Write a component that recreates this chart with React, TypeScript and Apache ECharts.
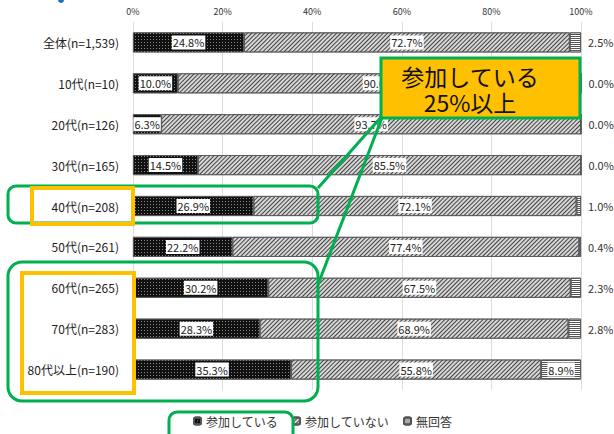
import React, { useEffect, useRef } from "react";
import * as echarts from "echarts";

const categories = [
  "全体(n=1,539)",
  "10代(n=10)",
  "20代(n=126)",
  "30代(n=165)",
  "40代(n=208)",
  "50代(n=261)",
  "60代(n=265)",
  "70代(n=283)",
  "80代以上(n=190)",
];
const seriesNames = ["参加している", "参加していない", "無回答"];
const participating = [24.8, 10.0, 6.3, 14.5, 26.9, 22.2, 30.2, 28.3, 35.3];
const notParticipating = [72.7, 90.0, 93.7, 85.5, 72.1, 77.4, 67.5, 68.9, 55.8];
const noAnswer = [2.5, 0.0, 0.0, 0.0, 1.0, 0.4, 2.3, 2.8, 8.9];
const axisTicks = [0, 20, 40, 60, 80, 100];

const FONT = "'Noto Sans CJK JP', 'Noto Sans', sans-serif";

export default function App() {
  const ref = useRef<HTMLDivElement>(null);
  useEffect(() => {
    if (!ref.current) return;
    const chart = echarts.init(ref.current, null, { renderer: "svg" });
    const fmt = (p: any) => Number(p.value).toFixed(1) + "%";
    const insideLabel = {
      show: true,
      position: "inside",
      formatter: fmt,
      backgroundColor: "#fff",
      color: "#222",
      fontSize: 11,
      fontFamily: FONT,
      padding: [2, 1, 1, 1],
    };
    chart.setOption({
      animation: false,
      textStyle: { fontFamily: FONT },
      grid: { left: 133, right: 33, top: 22, bottom: 44 },
      xAxis: {
        type: "value",
        position: "top",
        min: axisTicks[0],
        max: axisTicks[axisTicks.length - 1],
        interval: 20,
        axisLabel: { formatter: "{value}%", fontSize: 9, color: "#333", margin: 6 },
        axisLine: { show: false },
        axisTick: { show: false },
        splitLine: { show: true, lineStyle: { color: "#ddd", width: 1 } },
      },
      yAxis: {
        type: "category",
        data: categories,
        inverse: true,
        axisLine: { show: false },
        axisTick: { show: false },
        axisLabel: { fontSize: 12, color: "#222", margin: 14 },
      },
      legend: {
        bottom: 2,
        left: 188,
        itemWidth: 7,
        itemHeight: 7,
        itemGap: 14,
        textStyle: { fontSize: 12, color: "#333" },
        data: seriesNames,
      },
      series: [
        {
          name: seriesNames[0],
          type: "bar",
          stack: "a",
          barWidth: 20,
          data: participating,
          itemStyle: {
            color: "#111",
            borderColor: "#555",
            borderWidth: 0.8,
            decal: {
              symbol: "rect",
              symbolSize: 1,
              color: "rgba(255,255,255,0.5)",
              dashArrayX: [1, 2],
              dashArrayY: [1, 2],
              rotation: 0,
            },
          },
          label: insideLabel,
        },
        {
          name: seriesNames[1],
          type: "bar",
          stack: "a",
          barWidth: 20,
          data: notParticipating,
          itemStyle: {
            color: "#d6d6d6",
            borderColor: "#555",
            borderWidth: 0.8,
            decal: {
              symbol: "rect",
              symbolSize: 1,
              color: "#444",
              dashArrayX: [1, 0],
              dashArrayY: [1, 2],
              rotation: -Math.PI / 4,
            },
          },
          label: insideLabel,
        },
        {
          name: seriesNames[2],
          type: "bar",
          stack: "a",
          barWidth: 20,
          data: noAnswer.map((v, i) =>
            i === noAnswer.length - 1
              ? { value: v, label: { ...insideLabel } }
              : v
          ),
          itemStyle: {
            color: "#fff",
            borderColor: "#555",
            borderWidth: 0.8,
            decal: {
              symbol: "rect",
              symbolSize: 1,
              color: "#555",
              dashArrayX: [1, 0],
              dashArrayY: [1, 1],
              rotation: 0,
            },
          },
          label: {
            show: true,
            position: "right",
            distance: 7,
            formatter: fmt,
            color: "#333",
            fontSize: 11,
          },
        },
      ],
      graphic: [
        { type: "circle", z: 100, shape: { cx: 61, cy: 0, r: 3 }, style: { fill: "#1f6fc5" } },
        {
          type: "rect", z: 100,
          shape: { x: 8, y: 186, width: 310, height: 37, r: 8 },
          style: { fill: "none", stroke: "#00B050", lineWidth: 3 },
        },
        {
          type: "rect", z: 100,
          shape: { x: 8, y: 262, width: 310, height: 139, r: 14 },
          style: { fill: "none", stroke: "#00B050", lineWidth: 3 },
        },
        {
          type: "rect", z: 100,
          shape: { x: 169, y: 412, width: 124, height: 40, r: 8 },
          style: { fill: "none", stroke: "#00B050", lineWidth: 3 },
        },
        {
          type: "rect", z: 100,
          shape: { x: 32, y: 188, width: 101, height: 36 },
          style: { fill: "none", stroke: "#FFC000", lineWidth: 4 },
        },
        {
          type: "rect", z: 100,
          shape: { x: 22, y: 273, width: 112, height: 120 },
          style: { fill: "none", stroke: "#FFC000", lineWidth: 4 },
        },
        {
          type: "line", z: 100,
          shape: { x1: 383, y1: 115, x2: 318, y2: 188 },
          style: { stroke: "#00B050", lineWidth: 3 },
        },
        {
          type: "line", z: 100,
          shape: { x1: 383, y1: 115, x2: 319, y2: 282 },
          style: { stroke: "#00B050", lineWidth: 3 },
        },
        {
          type: "rect", z: 101,
          shape: { x: 381, y: 58, width: 199, height: 60 },
          style: { fill: "#FFC000", stroke: "#00B050", lineWidth: 3 },
        },
        {
          type: "text", z: 102,
          x: 470, y: 89,
          style: {
            text: "参加している\n25%以上",
            fontSize: 23,
            lineHeight: 26,
            fontFamily: FONT,
            fill: "#111",
            align: "center",
            verticalAlign: "middle",
          },
        },
      ],
    });
    return () => chart.dispose();
  }, []);
  return <div ref={ref} style={{ width: 614, height: 434, position: "absolute", left: 0, top: 0 }} />;
}
